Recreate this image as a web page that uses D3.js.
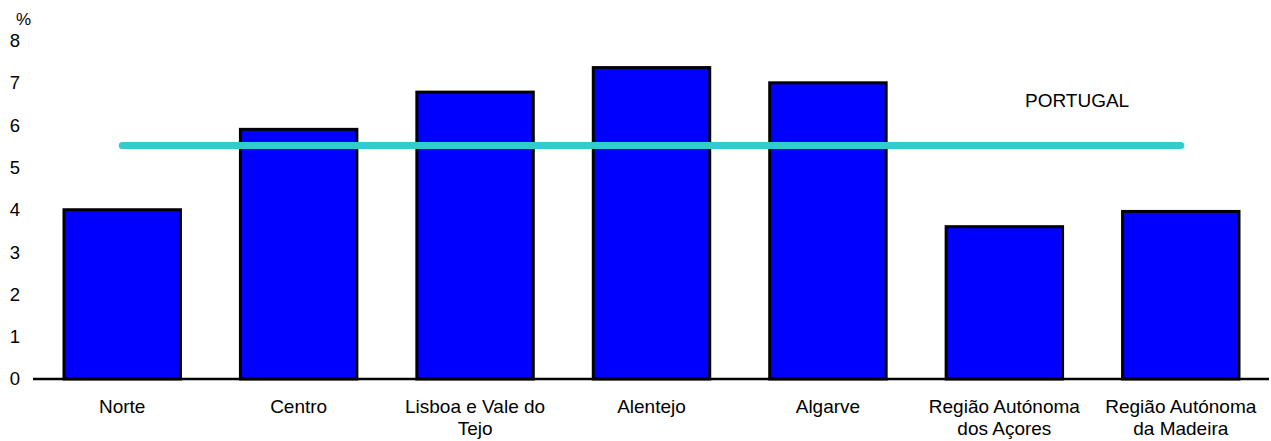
<!DOCTYPE html>
<html>
<head>
<meta charset="utf-8">
<script src="https://cdn.jsdelivr.net/npm/d3@7"></script>
<style>
  html, body { margin: 0; padding: 0; background: #fff; }
  svg { display: block; font-family: "Liberation Sans", Arial, sans-serif; }
</style>
</head>
<body>
<svg id="chart" width="1271" height="441"></svg>
<script>
// Regions of Portugal and their rates (%)
const regions = ["Norte", "Centro", "Lisboa e Vale do Tejo", "Alentejo", "Algarve",
                 "Região Autónoma dos Açores", "Região Autónoma da Madeira"];
const rates = [4.0, 5.9, 6.78, 7.36, 7.0, 3.6, 3.96];
const portugalRate = 5.52;
const yTicks = [0, 1, 2, 3, 4, 5, 6, 7, 8];

const svg = d3.select("#chart");
const fontSize = 19;

const x = d3.scaleBand()
  .domain(regions)
  .range([34, 1269])
  .paddingInner(0.34)
  .paddingOuter(0.17);

const y = d3.scaleLinear()
  .domain([0, 8])
  .range([379, 40.5]);

// Y tick labels (no axis line, no tick marks)
svg.append("g")
  .selectAll("text")
  .data(yTicks)
  .join("text")
  .attr("x", 20)
  .attr("y", d => y(d))
  .attr("dy", "0.35em")
  .attr("text-anchor", "end")
  .attr("font-size", fontSize - 0.5)
  .attr("fill", "#000")
  .text(d => d);

svg.append("text")
  .attr("x", 16)
  .attr("y", 25)
  .attr("font-size", fontSize - 2)
  .attr("fill", "#000")
  .text("%");

// Bars
svg.append("g")
  .selectAll("rect")
  .data(regions)
  .join("rect")
  .attr("x", d => x(d))
  .attr("width", x.bandwidth())
  .attr("y", (d, i) => y(rates[i]))
  .attr("height", (d, i) => y(0) - y(rates[i]))
  .attr("fill", "#0000FF")
  .attr("stroke", "#000")
  .attr("stroke-width", 3);

// Baseline
svg.append("line")
  .attr("x1", 33).attr("x2", 1269)
  .attr("y1", y(0)).attr("y2", y(0))
  .attr("stroke", "#000")
  .attr("stroke-width", 2.5);

// National average line across the regions
const first = regions[0], last = regions[regions.length - 1];
svg.append("line")
  .attr("x1", x(first) + x.bandwidth() / 2)
  .attr("x2", x(last) + x.bandwidth() / 2)
  .attr("y1", y(portugalRate))
  .attr("y2", y(portugalRate))
  .attr("stroke", "#33CCCC")
  .attr("stroke-width", 7)
  .attr("stroke-linecap", "round");

svg.append("text")
  .attr("x", 1025)
  .attr("y", 107)
  .attr("font-size", fontSize)
  .attr("fill", "#000")
  .text("PORTUGAL");

// Category labels, wrapped to fit under each bar
function wrap(textSel, width) {
  textSel.each(function() {
    const text = d3.select(this);
    const words = text.text().split(/\s+/);
    const xPos = text.attr("x");
    text.text(null);
    let line = [];
    let tspan = text.append("tspan").attr("x", xPos).attr("dy", 0);
    for (const w of words) {
      line.push(w);
      tspan.text(line.join(" "));
      if (tspan.node().getComputedTextLength() > width && line.length > 1) {
        line.pop();
        tspan.text(line.join(" "));
        line = [w];
        tspan = text.append("tspan").attr("x", xPos).attr("dy", 22).text(w);
      }
    }
  });
}

svg.append("g")
  .selectAll("text")
  .data(regions)
  .join("text")
  .attr("x", d => x(d) + x.bandwidth() / 2)
  .attr("y", 412.5)
  .attr("text-anchor", "middle")
  .attr("font-size", fontSize)
  .attr("fill", "#000")
  .text(d => d)
  .call(wrap, 155);
</script>
</body>
</html>
